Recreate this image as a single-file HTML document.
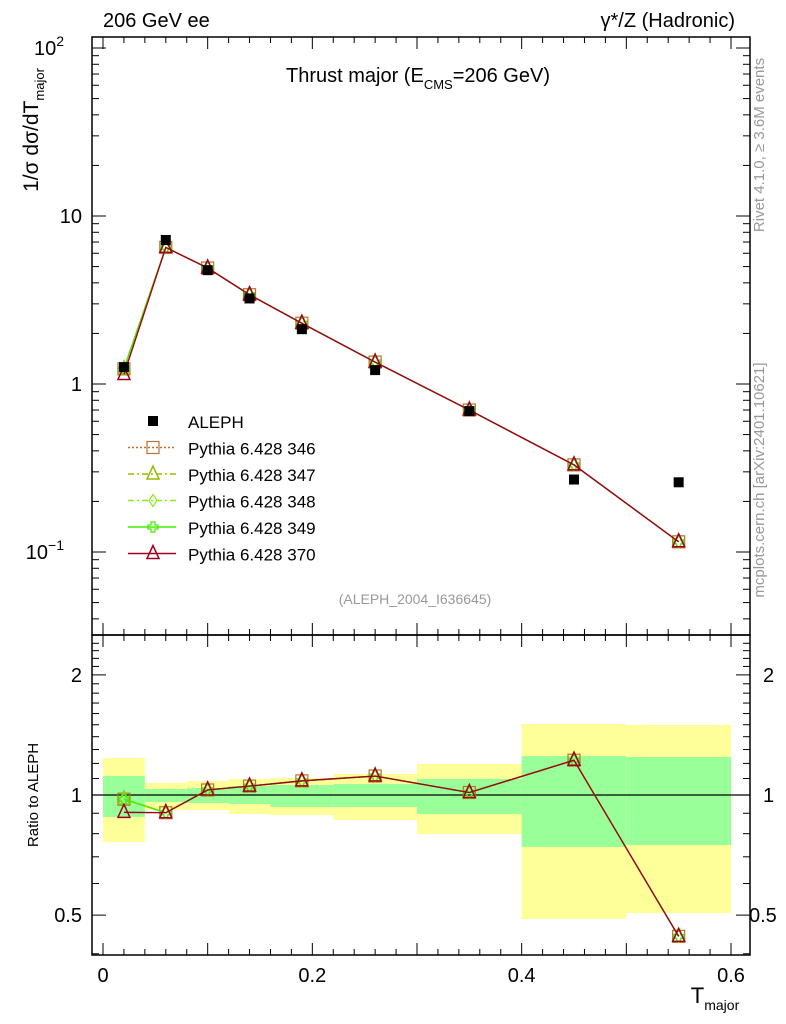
<!DOCTYPE html>
<html><head><meta charset="utf-8"><style>body{margin:0;background:#fff}svg{display:block;font-family:"Liberation Sans",sans-serif}</style></head>
<body>
<svg id="c" width="786" height="1024" viewBox="0 0 786 1024" xmlns="http://www.w3.org/2000/svg">
<text x="103" y="27" font-size="20">206 GeV ee</text>
<text x="735" y="27" font-size="20" text-anchor="end">γ*/Z (Hadronic)</text>
<text x="418" y="82" font-size="20" text-anchor="middle">Thrust major (E<tspan font-size="13" dy="7">CMS</tspan><tspan dy="-7">=206 GeV)</tspan></text>
<text x="415" y="604" font-size="14" fill="#999" text-anchor="middle">(ALEPH_2004_I636645)</text>
<text transform="translate(764,145) rotate(-90)" font-size="15" fill="#999" text-anchor="middle">Rivet 4.1.0, ≥ 3.6M events</text>
<text transform="translate(764,480) rotate(-90)" font-size="15" fill="#999" text-anchor="middle">mcplots.cern.ch [arXiv:2401.10621]</text>
<text transform="translate(38,130) rotate(-90)" font-size="21" text-anchor="middle">1/σ  dσ/dT<tspan font-size="13" dy="6">major</tspan></text>
<text transform="translate(38,795) rotate(-90)" font-size="15" text-anchor="middle">Ratio to ALEPH</text>
<text x="715" y="1003" font-size="22" text-anchor="middle">T<tspan font-size="14" dy="7">major</tspan></text>
<g id="g"></g>
</svg>
<script>
const edges=[0,0.04,0.08,0.12,0.16,0.22,0.3,0.4,0.5,0.6];
const xs=[0.02,0.06,0.1,0.14,0.19,0.26,0.35,0.45,0.55];
const aleph=[1.26,7.2,4.76,3.23,2.12,1.21,0.69,0.27,0.26];
const mc370=[1.14,6.5,4.9,3.4,2.3,1.35,0.70,0.33,0.115];
const mcOther=[1.23,6.5,4.9,3.4,2.3,1.35,0.70,0.33,0.115];
const totHi=[1.238,1.072,1.084,1.097,1.103,1.129,1.196,1.506,1.498];
const totLo=[0.762,0.917,0.917,0.896,0.891,0.866,0.798,0.489,0.506];
const statHi=[1.116,1.035,1.041,1.053,1.059,1.066,1.097,1.252,1.245];
const statLo=[0.881,0.960,0.955,0.949,0.933,0.933,0.896,0.741,0.749];
const xTicks=[0,0.2,0.4,0.6];
const xTickLabels=["0","0.2","0.4","0.6"];
const legendNames=["ALEPH","Pythia 6.428 346","Pythia 6.428 347","Pythia 6.428 348","Pythia 6.428 349","Pythia 6.428 370"];

const NS="http://www.w3.org/2000/svg",G=document.getElementById('g');
const X=v=>103+v*(731-103)/0.6;
const Y=v=>384-168*Math.log10(v);
const R=v=>795-399*Math.log10(v);
const L=92,Rt=750,T=37,M=635,B=955;
function el(t,a,p){const e=document.createElementNS(NS,t);for(const k in a)e.setAttribute(k,a[k]);(p||G).appendChild(e);return e;}
function txt(x,y,s,sz,anc){const e=el('text',{x:x,y:y,'font-size':sz,'text-anchor':anc||'start'});e.textContent=s;return e;}

for(let i=0;i<xs.length;i++){
 const a=el('rect',{x:X(edges[i]),y:R(totHi[i]),width:X(edges[i+1])-X(edges[i]),height:R(totLo[i])-R(totHi[i]),fill:'#ffff99'});
 
 
 const b=el('rect',{x:X(edges[i]),y:R(statHi[i]),width:X(edges[i+1])-X(edges[i]),height:R(statLo[i])-R(statHi[i]),fill:'#99ff99'});
 
 
}
el('line',{x1:L,x2:Rt,y1:R(1),y2:R(1),stroke:'#000','stroke-width':1.3});

el('rect',{x:L,y:T,width:Rt-L,height:M-T,fill:'none',stroke:'#000','stroke-width':1.5});
el('rect',{x:L,y:M,width:Rt-L,height:B-M,fill:'none',stroke:'#000','stroke-width':1.5});

for(let v=0;v<=0.6001;v+=0.02){const maj=Math.abs(v/0.1-Math.round(v/0.1))<1e-6;const h=maj?12:6;
 for(const [y0,d] of [[T,1],[M,-1],[M,1],[B,-1]]) el('line',{x1:X(v),x2:X(v),y1:y0,y2:y0+d*h,stroke:'#000'});}
xTicks.forEach((v,i)=>{const t=txt(X(v),982,xTickLabels[i],20,'middle');});

for(let e=-2;e<=2;e++)for(let m=1;m<10;m++){const v=m*Math.pow(10,e);const y=Y(v);if(y<T||y>M)continue;const h=m==1?14:7;
 el('line',{x1:L,x2:L+h,y1:y,y2:y,stroke:'#000'});el('line',{x1:Rt,x2:Rt-h,y1:y,y2:y,stroke:'#000'});}
[[100,'10','2'],[10,'10',''],[1,'1',''],[0.1,'10','−1']].forEach(([v,b,s])=>{const t=txt(s?64:82,Y(v)+7,b,20,'end');if(s){const ts=el('tspan',{dy:-9,'font-size':14},t);ts.textContent=s;}
 });
for(let v=0.4;v<=2.5;v+=0.1){const y=R(v);if(y<M||y>B)continue;const maj=[0.5,1,2].some(q=>Math.abs(q-v)<1e-6);const h=maj?14:7;
 el('line',{x1:L,x2:L+h,y1:y,y2:y,stroke:'#000'});el('line',{x1:Rt,x2:Rt-h,y1:y,y2:y,stroke:'#000'});}
[[2,'2',763],[1,'1',763],[0.5,'0.5',749]].forEach(([v,s,xr])=>{txt(82,R(v)+7,s,20,'end');txt(xr,R(v)+7,s,20,'start');});

const styles=[
 {c:'#b87333',d:'2,2',m:'sq'},{c:'#99bb00',d:'6,3,2,3',m:'tri'},{c:'#88ee22',d:'6,3,2,3',m:'dia'},{c:'#44ee00',d:'',m:'cross'},{c:'#a00020',d:'',m:'tri'}];
function marker(m,x,y,c,s){s=s||6;
 if(m=='sq')return el('rect',{x:x-s,y:y-s,width:2*s,height:2*s,fill:'none',stroke:c,'stroke-width':1.2});
 if(m=='tri')return el('polygon',{points:`${x},${y-s-2} ${x-s},${y+s-1} ${x+s},${y+s-1}`,fill:'none',stroke:c,'stroke-width':1.5});
 if(m=='dia')return el('polygon',{points:`${x},${y-s} ${x-4},${y} ${x},${y+s} ${x+4},${y}`,fill:'none',stroke:c,'stroke-width':1.2});
 return el('path',{d:`M${x-5} ${y-2}h3v-3h4v3h3v4h-3v3h-4v-3h-3z`,fill:'none',stroke:c,'stroke-width':1.2});}
styles.forEach((st,k)=>{const vals=k==4?mc370:mcOther;
 const p1=el('polyline',{points:xs.map((x,i)=>X(x)+','+Y(vals[i])).join(' '),fill:'none',stroke:st.c,'stroke-width':1.4,'stroke-dasharray':st.d});
 
 
 const p2=el('polyline',{points:xs.map((x,i)=>X(x)+','+R(vals[i]/aleph[i])).join(' '),fill:'none',stroke:st.c,'stroke-width':1.4,'stroke-dasharray':st.d});
 
 
 xs.forEach((x,i)=>{marker(st.m,X(x),Y(vals[i]),st.c);marker(st.m,X(x),R(vals[i]/aleph[i]),st.c);});
});
xs.forEach((x,i)=>{const r=el('rect',{x:X(x)-5,y:Y(aleph[i])-5,width:10,height:10,fill:'#000'});
 
 });

legendNames.forEach((n,i)=>{const y=421+i*26.5;const g=el('g',{});
 
 
 const t=txt(188,y+7,n,17);g.appendChild(t);
 if(i==0){g.appendChild(el('rect',{x:148,y:y-5,width:10,height:10,fill:'#000'}));}
 else{const st=styles[i-1];g.appendChild(el('line',{x1:128,x2:176,y1:y,y2:y,stroke:st.c,'stroke-width':1.4,'stroke-dasharray':st.d}));g.appendChild(marker(st.m,153,y,st.c,6));}
});
</script>
</body></html>
